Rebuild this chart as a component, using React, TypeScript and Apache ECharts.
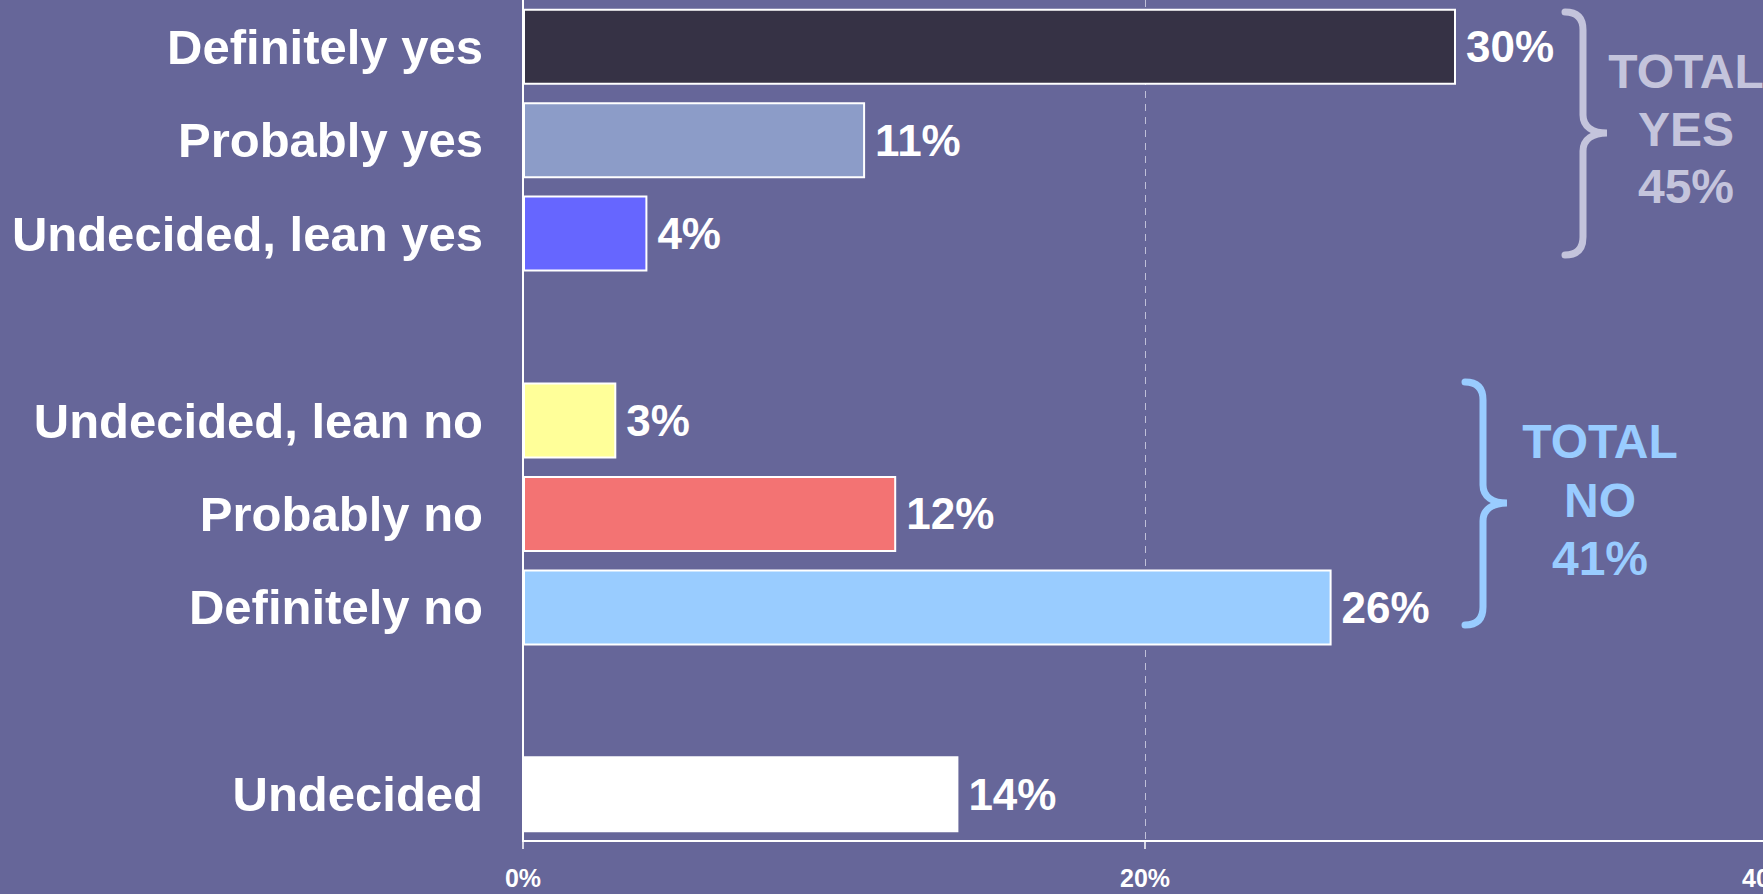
import React, { useEffect, useRef } from "react";
import * as echarts from "echarts";

const categories = [
  "Definitely yes",
  "Probably yes",
  "Undecided, lean yes",
  "",
  "Undecided, lean no",
  "Probably no",
  "Definitely no",
  "",
  "Undecided",
];
const values: (number | null)[] = [30, 11, 4, null, 3, 12, 26, null, 14];
const barColors = [
  "#363245",
  "#8C9CC8",
  "#6666FF",
  "transparent",
  "#FFFF99",
  "#F37373",
  "#99CCFF",
  "transparent",
  "#FFFFFF",
];
const xTicks = [0, 20, 40];
const yesIdx = [0, 1, 2];
const noIdx = [4, 5, 6];

const FONT = '"Liberation Sans", Arial, sans-serif';
const BRACE_D =
  "M0,0 C12,0 18,6 18,18 L18,103 C18,115 28,121 42,121 C28,121 18,127 18,139 L18,225 C18,237 12,243 0,243";

let registered = false;
function ensureBrace() {
  if (registered) return;
  echarts.graphic.registerShape("brace", echarts.graphic.extendPath(BRACE_D, {}));
  registered = true;
}

const CHART_W = 1820;

export default function App() {
  const ref = useRef<HTMLDivElement>(null);
  useEffect(() => {
    if (!ref.current) return;
    ensureBrace();
    const chart = echarts.init(ref.current, undefined, { renderer: "svg" });
    const totalYes = yesIdx.reduce((s, i) => s + (values[i] || 0), 0);
    const totalNo = noIdx.reduce((s, i) => s + (values[i] || 0), 0);
    const yesColor = "#C4C4DC";
    const noColor = "#99CCFF";
    const txt = (text: string, x: number, y: number, fill: string) => ({
      type: "text",
      x,
      y,
      style: {
        text,
        fill,
        font: `bold 48px ${FONT}`,
        align: "center",
        verticalAlign: "middle",
      },
    });
    chart.setOption({
      animation: false,
      backgroundColor: "#666699",
      grid: {
        left: 523,
        right: CHART_W - 1767,
        top: 0,
        bottom: 53,
        containLabel: false,
        outerBoundsMode: "none",
      },
      xAxis: {
        type: "value",
        min: xTicks[0],
        max: xTicks[xTicks.length - 1],
        interval: xTicks[1] - xTicks[0],
        axisLine: { show: true, lineStyle: { color: "#FFFFFF", width: 2 } },
        axisTick: { show: true, length: 8, lineStyle: { color: "#FFFFFF", width: 1.5 } },
        axisLabel: {
          formatter: "{value}%",
          color: "#FFFFFF",
          fontFamily: FONT,
          fontWeight: "bold",
          fontSize: 25,
          margin: 24,
        },
        splitLine: {
          show: true,
          lineStyle: { color: "#C0C0D8", width: 1, type: [7, 6] },
        },
      },
      yAxis: {
        type: "category",
        data: categories,
        inverse: true,
        axisLine: { show: true, lineStyle: { color: "#FFFFFF", width: 2 } },
        axisTick: { show: false },
        axisLabel: {
          color: "#FFFFFF",
          fontFamily: FONT,
          fontWeight: "bold",
          fontSize: 49,
          margin: 40,
        },
      },
      series: [
        {
          type: "bar",
          barWidth: 76,
          data: values.map((v, i) => ({
            value: v,
            itemStyle: { color: barColors[i], borderColor: "#FFFFFF", borderWidth: 2 },
          })),
          label: {
            show: true,
            position: "right",
            distance: 10,
            formatter: "{c}%",
            color: "#FFFFFF",
            fontFamily: FONT,
            fontWeight: "bold",
            fontSize: 44,
          },
        },
      ],
      graphic: [
        {
          type: "brace",
          x: 1565,
          y: 12,
          style: { stroke: yesColor, lineWidth: 7, fill: null, lineCap: "round" },
        },
        txt("TOTAL", 1686, 71, yesColor),
        txt("YES", 1686, 129, yesColor),
        txt(`${totalYes}%`, 1686, 186, yesColor),
        {
          type: "brace",
          x: 1465,
          y: 382,
          style: { stroke: noColor, lineWidth: 7, fill: null, lineCap: "round" },
        },
        txt("TOTAL", 1600, 441, noColor),
        txt("NO", 1600, 500, noColor),
        txt(`${totalNo}%`, 1600, 558, noColor),
      ],
    });
    return () => chart.dispose();
  }, []);
  return (
    <div
      style={{
        position: "fixed",
        left: 0,
        top: 0,
        width: 1763,
        height: 894,
        overflow: "hidden",
        background: "#666699",
      }}
    >
      <div ref={ref} style={{ width: CHART_W, height: 894 }} />
    </div>
  );
}
